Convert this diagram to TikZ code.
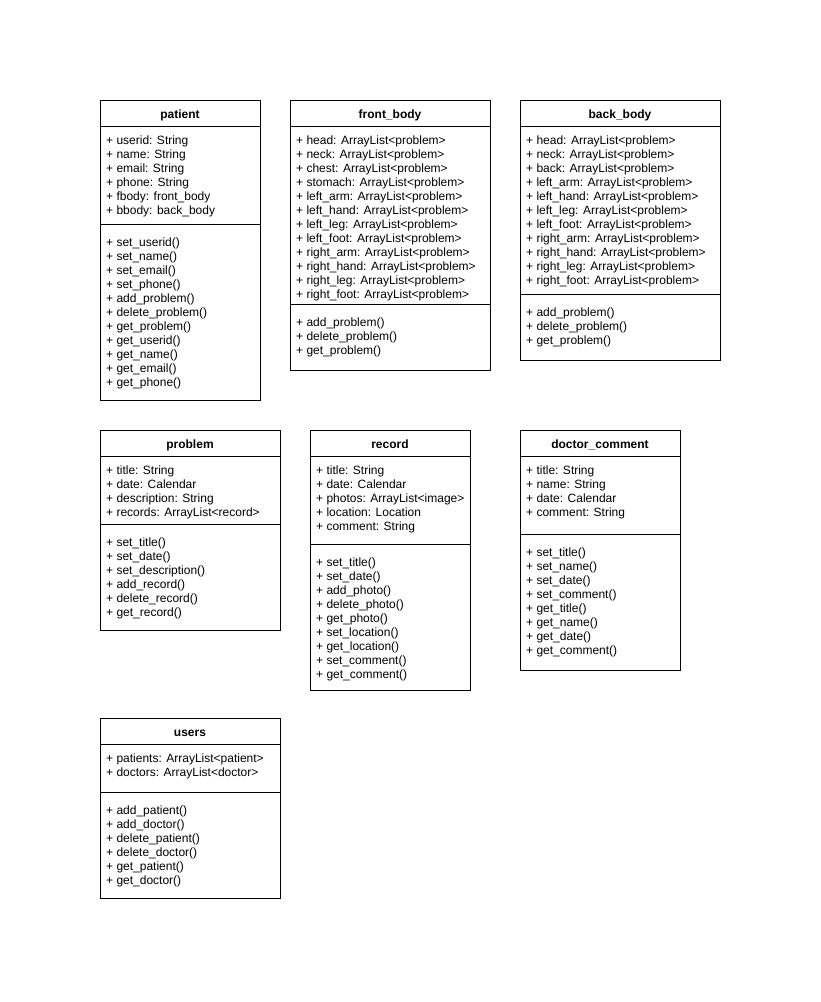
\documentclass[tikz,border=0pt]{standalone}
\usepackage{fontspec}
\setmainfont{Liberation Sans}
\usetikzlibrary{positioning}

\begin{document}
\begin{tikzpicture}[
    x=1pt, y=-1pt,
    node distance=0pt,
    font=\fontsize{12}{14}\selectfont,
    classname/.style={draw, line width=1pt, outer sep=0pt, inner sep=0pt, minimum height=26pt, text height=10pt, text depth=0pt, font=\fontsize{12}{14}\selectfont\bfseries},
    section/.style={draw, line width=1pt, outer sep=0pt, inner sep=0pt},
    members/.style={align=left, inner sep=0pt, anchor=north west}
]
\useasboundingbox (0,0) rectangle (821,1002);

% patient
\node[classname, minimum width=160pt, anchor=north west] (patient) at (100,100) {patient};
\node[section, minimum width=160pt, minimum height=98pt, below=of patient] (patient-attr) {};
\node[section, minimum width=160pt, minimum height=176pt, below=of patient-attr] (patient-ops) {};
\node[members, below right=10pt and 6pt of patient-attr.north west] (patient-attr-text) {%
+ userid: String\\ + name: String\\ + email: String\\ + phone: String\\
+ fbody: front\_body\\ + bbody: back\_body};
\node[members, below right=14pt and 6pt of patient-ops.north west] (patient-ops-text) {%
+ set\_userid()\\ + set\_name()\\ + set\_email()\\ + set\_phone()\\
+ add\_problem()\\ + delete\_problem()\\ + get\_problem()\\ + get\_userid()\\
+ get\_name()\\ + get\_email()\\ + get\_phone()};

% front_body
\node[classname, minimum width=200pt, anchor=north west] (front) at (290,100) {front\_body};
\node[section, minimum width=200pt, minimum height=178pt, below=of front] (front-attr) {};
\node[section, minimum width=200pt, minimum height=66pt, below=of front-attr] (front-ops) {};
\node[members, below right=10pt and 6pt of front-attr.north west] (front-attr-text) {%
+ head: ArrayList<problem>\\ + neck: ArrayList<problem>\\ + chest: ArrayList<problem>\\
+ stomach: ArrayList<problem>\\ + left\_arm: ArrayList<problem>\\ + left\_hand: ArrayList<problem>\\
+ left\_leg: ArrayList<problem>\\ + left\_foot: ArrayList<problem>\\ + right\_arm: ArrayList<problem>\\
+ right\_hand: ArrayList<problem>\\ + right\_leg: ArrayList<problem>\\ + right\_foot: ArrayList<problem>};
\node[members, below right=14pt and 6pt of front-ops.north west] (front-ops-text) {%
+ add\_problem()\\ + delete\_problem()\\ + get\_problem()};

% back_body
\node[classname, minimum width=200pt, anchor=north west] (back) at (520,100) {back\_body};
\node[section, minimum width=200pt, minimum height=168pt, below=of back] (back-attr) {};
\node[section, minimum width=200pt, minimum height=66pt, below=of back-attr] (back-ops) {};
\node[members, below right=10pt and 6pt of back-attr.north west] (back-attr-text) {%
+ head: ArrayList<problem>\\ + neck: ArrayList<problem>\\ + back: ArrayList<problem>\\
+ left\_arm: ArrayList<problem>\\ + left\_hand: ArrayList<problem>\\ + left\_leg: ArrayList<problem>\\
+ left\_foot: ArrayList<problem>\\ + right\_arm: ArrayList<problem>\\ + right\_hand: ArrayList<problem>\\
+ right\_leg: ArrayList<problem>\\ + right\_foot: ArrayList<problem>};
\node[members, below right=14pt and 6pt of back-ops.north west] (back-ops-text) {%
+ add\_problem()\\ + delete\_problem()\\ + get\_problem()};

% problem
\node[classname, minimum width=180pt, anchor=north west] (problem) at (100,430) {problem};
\node[section, minimum width=180pt, minimum height=68pt, below=of problem] (problem-attr) {};
\node[section, minimum width=180pt, minimum height=106pt, below=of problem-attr] (problem-ops) {};
\node[members, below right=10pt and 6pt of problem-attr.north west] (problem-attr-text) {%
+ title: String\\ + date: Calendar\\ + description: String\\ + records: ArrayList<record>};
\node[members, below right=14pt and 6pt of problem-ops.north west] (problem-ops-text) {%
+ set\_title()\\ + set\_date()\\ + set\_description()\\ + add\_record()\\
+ delete\_record()\\ + get\_record()};

% record
\node[classname, minimum width=160pt, anchor=north west] (record) at (310,430) {record};
\node[section, minimum width=160pt, minimum height=88pt, below=of record] (record-attr) {};
\node[section, minimum width=160pt, minimum height=146pt, below=of record-attr] (record-ops) {};
\node[members, below right=10pt and 6pt of record-attr.north west] (record-attr-text) {%
+ title: String\\ + date: Calendar\\ + photos: ArrayList<image>\\ + location: Location\\
+ comment: String};
\node[members, below right=14pt and 6pt of record-ops.north west] (record-ops-text) {%
+ set\_title()\\ + set\_date()\\ + add\_photo()\\ + delete\_photo()\\ + get\_photo()\\
+ set\_location()\\ + get\_location()\\ + set\_comment()\\ + get\_comment()};

% doctor_comment
\node[classname, minimum width=160pt, anchor=north west] (comment) at (520,430) {doctor\_comment};
\node[section, minimum width=160pt, minimum height=78pt, below=of comment] (comment-attr) {};
\node[section, minimum width=160pt, minimum height=136pt, below=of comment-attr] (comment-ops) {};
\node[members, below right=10pt and 6pt of comment-attr.north west] (comment-attr-text) {%
+ title: String\\ + name: String\\ + date: Calendar\\ + comment: String};
\node[members, below right=14pt and 6pt of comment-ops.north west] (comment-ops-text) {%
+ set\_title()\\ + set\_name()\\ + set\_date()\\ + set\_comment()\\
+ get\_title()\\ + get\_name()\\ + get\_date()\\ + get\_comment()};

% users
\node[classname, minimum width=180pt, anchor=north west] (users) at (100,718) {users};
\node[section, minimum width=180pt, minimum height=48pt, below=of users] (users-attr) {};
\node[section, minimum width=180pt, minimum height=106pt, below=of users-attr] (users-ops) {};
\node[members, below right=10pt and 6pt of users-attr.north west] (users-attr-text) {%
+ patients: ArrayList<patient>\\ + doctors: ArrayList<doctor>};
\node[members, below right=14pt and 6pt of users-ops.north west] (users-ops-text) {%
+ add\_patient()\\ + add\_doctor()\\ + delete\_patient()\\ + delete\_doctor()\\
+ get\_patient()\\ + get\_doctor()};

\end{tikzpicture}
\end{document}
